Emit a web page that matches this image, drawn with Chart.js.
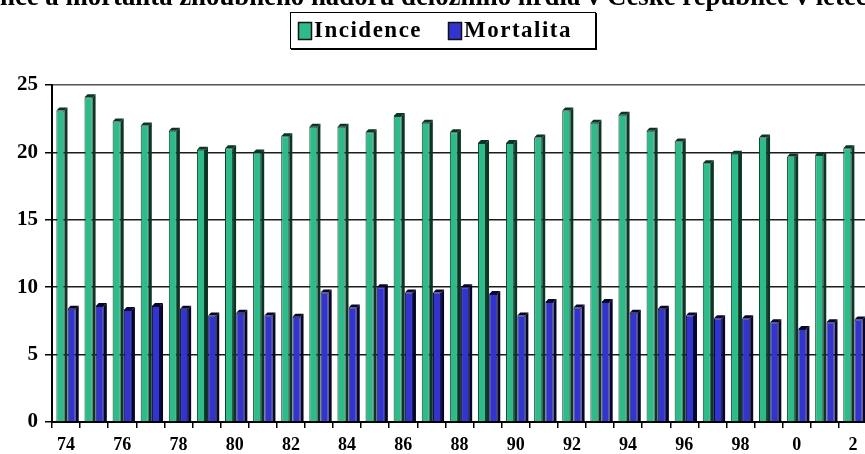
<!DOCTYPE html>
<html>
<head>
<meta charset="utf-8">
<script src="https://cdn.jsdelivr.net/npm/chart.js@4/dist/chart.umd.min.js"></script>
<style>
  html, body { margin: 0; padding: 0; background: #fff; overflow: hidden; }
  #wrap { width: 867px; height: 454px; }
</style>
</head>
<body>
<div id="wrap"><canvas id="c" width="867" height="454"></canvas></div>
<script>
// Years 1974–2002, shown as two-digit labels
const years = ['74','75','76','77','78','79','80','81','82','83','84','85','86','87','88','89',
               '90','91','92','93','94','95','96','97','98','99','0','1','2'];
// Rates per 100 000 women
const incidence = [23.1, 24.1, 22.3, 22.0, 21.6, 20.2, 20.3, 20.0, 21.2, 21.9, 21.9, 21.5, 22.7, 22.2, 21.5,
                   20.7, 20.7, 21.1, 23.1, 22.2, 22.8, 21.6, 20.8, 19.2, 19.9, 21.1, 19.7, 19.8, 20.3];
const mortality = [8.4, 8.6, 8.3, 8.6, 8.4, 7.9, 8.1, 7.9, 7.8, 9.6, 8.5, 10.0, 9.6, 9.6, 10.0,
                   9.5, 7.9, 8.9, 8.5, 8.9, 8.1, 8.4, 7.9, 7.7, 7.7, 7.4, 6.9, 7.4, 7.6];
const yTicks = [0, 5, 10, 15, 20, 25];

const titleText = 'Incidence a mortalita zhoubného nádoru děložního hrdla v České republice v letech 1974–2002';
const seriesNames = ['Incidence', 'Mortalita'];
const faceColors = ['#2dbb8a', '#3333cf'];
const sideColors = ['#0b3524', '#06062a'];
const serif = "'Liberation Serif', 'Times New Roman', serif";

// Pseudo-3D depth: dark right side and top cap on each bar
const depthPlugin = {
  id: 'depth',
  afterDatasetsDraw(chart) {
    const ctx = chart.ctx;
    const d = 3;
    chart.data.datasets.forEach((ds, i) => {
      const meta = chart.getDatasetMeta(i);
      meta.data.forEach(el => {
        const { x, y, base, width } = el.getProps(['x', 'y', 'base', 'width'], true);
        const l = x - width / 2, r = x + width / 2;
        ctx.save();
        ctx.fillStyle = sideColors[i];
        ctx.beginPath();
        ctx.moveTo(r, y);
        ctx.lineTo(r + d, y - d);
        ctx.lineTo(r + d, base);
        ctx.lineTo(r, base);
        ctx.closePath();
        ctx.fill();
        ctx.beginPath();
        ctx.moveTo(l, y);
        ctx.lineTo(l + d, y - d);
        ctx.lineTo(r + d, y - d);
        ctx.lineTo(r, y);
        ctx.closePath();
        ctx.fill();
        ctx.restore();
      });
    });
  }
};

// Title (runs past the canvas edges) and boxed legend
const headerPlugin = {
  id: 'header',
  afterDraw(chart) {
    const ctx = chart.ctx;
    ctx.save();
    ctx.fillStyle = '#000';
    // size the title so that the part between "Incide" and "h 1974" spans the window width
    ctx.font = 'bold 20px ' + serif;
    const inner = titleText.slice(6, titleText.indexOf('h 1974'));
    const size = 20 * 868 / ctx.measureText(inner).width;
    ctx.font = 'bold ' + size.toFixed(2) + 'px ' + serif;
    ctx.textBaseline = 'alphabetic';
    ctx.textAlign = 'left';
    const skip = ctx.measureText('Incide').width;
    ctx.fillText(titleText, -skip, 5);

    // legend box
    const bx = 290, by = 12, bw = 305, bh = 36;
    ctx.fillStyle = '#fff';
    ctx.fillRect(bx, by, bw, bh);
    ctx.strokeStyle = '#000';
    ctx.lineWidth = 1;
    ctx.strokeRect(bx + 0.5, by + 0.5, bw, bh);
    ctx.lineWidth = 2;
    ctx.beginPath();
    ctx.moveTo(bx + 1, by + bh + 1);
    ctx.lineTo(bx + bw + 1, by + bh + 1);
    ctx.lineTo(bx + bw + 1, by + 1);
    ctx.stroke();

    ctx.font = 'bold 23px ' + serif;
    if ('letterSpacing' in ctx) ctx.letterSpacing = '1.5px';
    ctx.textBaseline = 'middle';
    const items = [{ x: 298, name: seriesNames[0] }, { x: 448, name: seriesNames[1] }];
    items.forEach((it, i) => {
      ctx.fillStyle = faceColors[i];
      ctx.fillRect(it.x, 22, 13, 17);
      ctx.lineWidth = 1.5;
      ctx.strokeStyle = '#111';
      ctx.strokeRect(it.x + 0.5, 22.5, 13, 17);
      ctx.fillStyle = '#000';
      ctx.fillText(it.name, it.x + 16, 31);
    });
    ctx.restore();
  }
};

new Chart(document.getElementById('c'), {
  type: 'bar',
  data: {
    labels: years,
    datasets: [
      { label: seriesNames[0], data: incidence, backgroundColor: faceColors[0],
        borderColor: '#123d2a', borderWidth: 1 },
      { label: seriesNames[1], data: mortality, backgroundColor: faceColors[1],
        borderColor: '#0a0a40', borderWidth: 1 }
    ]
  },
  options: {
    responsive: false,
    animation: false,
    events: [],
    layout: { padding: { top: 85, left: 0, right: 0, bottom: 0 } },
    categoryPercentage: 0.8,
    barPercentage: 0.72,
    plugins: { legend: { display: false }, title: { display: false }, tooltip: { enabled: false } },
    scales: {
      x: {
        afterFit: s => { s.height = 32; },
        grid: { display: true, drawOnChartArea: false, drawTicks: true, tickLength: 6,
                color: '#000', lineWidth: 1.5, offset: true },
        border: { display: true, color: '#000', width: 2 },
        ticks: {
          autoSkip: false, maxRotation: 0, minRotation: 0, padding: 7,
          color: '#000', font: { family: serif, size: 18, weight: 'bold' },
          callback: (v, i) => (i % 2 === 0 ? years[i] : '')
        }
      },
      y: {
        min: 0, max: 25,
        afterFit: s => { s.width = 52; },
        afterBuildTicks: s => { s.ticks = yTicks.map(v => ({ value: v })); },
        grid: { color: c => (c.tick && c.tick.value === 25 ? '#555' : '#1c1c1c'),
                lineWidth: 1.5, tickLength: 7, tickColor: '#000' },
        border: { display: true, color: '#000', width: 2 },
        ticks: { color: '#000', padding: 7, font: { family: serif, size: 21, weight: 'bold' } }
      }
    }
  },
  plugins: [depthPlugin, headerPlugin]
});
</script>
</body>
</html>
